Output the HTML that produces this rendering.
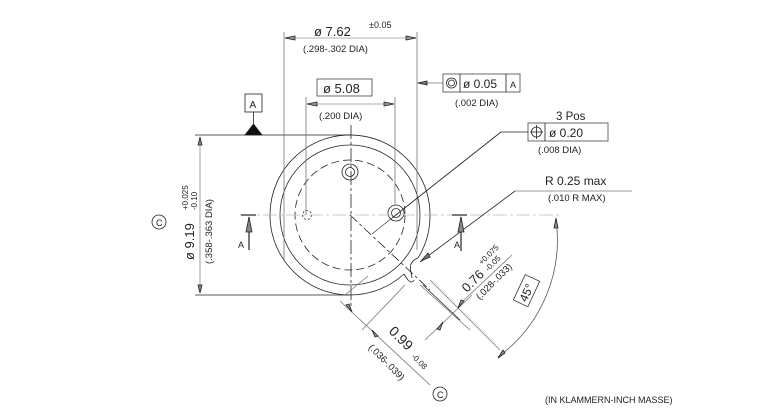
<!DOCTYPE html>
<html><head><style>body{margin:0;background:#fff}svg{display:block}text{font-family:"Liberation Sans",sans-serif;fill:#222}</style></head>
<body>
<svg width="771" height="416" viewBox="0 0 771 416" xmlns="http://www.w3.org/2000/svg" stroke="#222" fill="none" stroke-width="0.8">
<path d="M404,274 A80,80 0 1 1 430,215" />
<path d="M430,215 A80,80 0 0 1 418,258"/>
<circle cx="350" cy="215" r="70"/>
<circle cx="350" cy="215" r="55" stroke-dasharray="8,4"/>
<path d="M418,258 Q408,262 411,272 L412,278 M404,274 L408,280 Q412,284 414,280"/>
<circle cx="350" cy="172" r="8"/><circle cx="350" cy="172" r="4.5"/>
<circle cx="396" cy="213" r="8"/><circle cx="396" cy="213" r="4.5"/>
<circle cx="307" cy="215" r="4.5" stroke-dasharray="2,2"/>
<line x1="351" y1="125" x2="351" y2="310" stroke-dasharray="14,3,3,3"/>
<line x1="240" y1="215" x2="560" y2="215" stroke="#bbb" stroke-dasharray="14,3,3,3"/>
<line x1="350" y1="215" x2="430" y2="290" stroke-dasharray="10,3,3,3"/>
<line x1="195" y1="135" x2="350" y2="135"/>
<line x1="195" y1="295" x2="350" y2="295"/>
<line x1="200" y1="137" x2="200" y2="293" stroke="#888"/>
<polygon points="200,137 198,145 202,145" fill="#888"/><polygon points="200,293 198,285 202,285" fill="#888"/>
<polygon points="245,135 262,135 253.5,124" fill="#111"/>
<line x1="253.5" y1="124" x2="253.5" y2="112"/>
<rect x="245" y="94" width="17" height="18" fill="#fff"/>
<text x="249.5" y="108" font-size="10" stroke="none">A</text>
<line x1="284" y1="32" x2="284" y2="260" stroke="#777"/>
<line x1="417" y1="32" x2="417" y2="250" stroke="#777"/>
<line x1="285" y1="38" x2="416" y2="38" stroke="#999"/>
<polygon points="285,38 295,36 295,40" fill="#999"/><polygon points="416,38 406,36 406,40" fill="#999"/>
<text x="314" y="36" font-size="13" stroke="none">ø 7.62</text>
<text x="369" y="28" font-size="9" stroke="none">±0.05</text>
<text x="303" y="52" font-size="9.5" stroke="none">(.298-.302 DIA)</text>
<line x1="306" y1="97" x2="306" y2="215" stroke="#777"/>
<line x1="395" y1="97" x2="395" y2="205" stroke="#777"/>
<line x1="307" y1="104" x2="394" y2="104" stroke="#999"/>
<polygon points="307,104 317,102 317,106" fill="#999"/><polygon points="394,104 384,102 384,106" fill="#999"/>
<rect x="317" y="79" width="55" height="17" stroke="#444"/>
<text x="323" y="93" font-size="13" stroke="none">ø 5.08</text>
<text x="319" y="119" font-size="9.5" stroke="none">(.200 DIA)</text>
<line x1="417" y1="83" x2="443" y2="83" stroke="#777"/>
<polygon points="418,83 427,81 427,85" fill="#777"/>
<rect x="443" y="74" width="77" height="18" stroke="#444"/>
<line x1="460" y1="74" x2="460" y2="92"/><line x1="506" y1="74" x2="506" y2="92"/>
<circle cx="451.5" cy="83" r="5"/><circle cx="451.5" cy="83" r="3"/>
<text x="463" y="88" font-size="12" stroke="none">ø 0.05</text>
<text x="510" y="88" font-size="9" stroke="none">A</text>
<text x="455" y="106" font-size="9.5" stroke="none">(.002 DIA)</text>
<text x="556" y="120" font-size="11.5" stroke="none">3 Pos</text>
<rect x="528" y="123" width="80" height="18" stroke="#444"/>
<line x1="545" y1="123" x2="545" y2="141"/>
<circle cx="536.5" cy="132" r="5"/><line x1="530" y1="132" x2="543" y2="132"/><line x1="536.5" y1="125" x2="536.5" y2="139"/>
<text x="549" y="137" font-size="12" stroke="none">ø 0.20</text>
<text x="538" y="153" font-size="9.5" stroke="none">(.008 DIA)</text>
<line x1="528" y1="132" x2="501" y2="132"/>
<line x1="501" y1="132" x2="392" y2="218"/>
<line x1="392" y1="218" x2="372" y2="234" stroke-width="0.6"/>
<text x="545" y="185" font-size="12" stroke="none">R 0.25 max</text>
<line x1="515" y1="191" x2="632" y2="191" stroke="#777"/>
<text x="548" y="201" font-size="9.5" stroke="none">(.010 R MAX)</text>
<line x1="515" y1="191" x2="420" y2="262"/>
<polygon points="421,261 428,253 430,257" fill="#777"/>
<line x1="241" y1="215" x2="256" y2="215" stroke-width="1.2"/>
<line x1="249" y1="217" x2="249" y2="250" stroke-width="1.2"/>
<polygon points="249,217 246,232 252,232" fill="#888"/>
<text x="238" y="248" font-size="9" stroke="none">A</text>
<line x1="452" y1="215" x2="467" y2="215" stroke-width="1.2"/>
<line x1="461" y1="217" x2="461" y2="251" stroke-width="1.2"/>
<polygon points="461,217 458,232 464,232" fill="#888"/>
<text x="454" y="248" font-size="9" stroke="none">A</text>
<circle cx="159" cy="222" r="7"/>
<text x="156" y="226" font-size="9" stroke="none">C</text>
<g transform="translate(194,260) rotate(-90)">
<text x="0" y="0" font-size="13" stroke="none">ø 9.19</text>
<text x="50" y="-6" font-size="8" stroke="none">+0.025</text>
<text x="50" y="3" font-size="8" stroke="none">-0.10</text>
<text x="-4" y="18" font-size="9.5" stroke="none">(.358-.363 DIA)</text>
</g>
<line x1="345" y1="295" x2="368" y2="276" stroke="#777"/>
<line x1="362" y1="330" x2="405" y2="285" stroke="#777"/>
<line x1="340" y1="301" x2="430" y2="385" stroke="#777"/>
<polygon points="352,312 346,305 349,304" fill="#999"/>
<polygon points="372,330 378,336 375,337" fill="#999"/>
<line x1="420" y1="285" x2="470" y2="330" stroke="#777"/>
<line x1="430" y1="280" x2="500" y2="350" stroke="#777"/>
<line x1="423" y1="285" x2="460" y2="320"/>
<line x1="425" y1="340" x2="472" y2="295" stroke="#777"/>
<polygon points="443,322 437,329 440,330" fill="#999"/>
<polygon points="458,308 464,301 461,300" fill="#999"/>
<line x1="464" y1="300" x2="512" y2="255" stroke="#777"/>
<text transform="translate(388,332) rotate(45)" font-size="14" stroke="none">0.99</text>
<text transform="translate(411,357) rotate(45)" font-size="8" stroke="none">-0.08</text>
<text transform="translate(368,348) rotate(45)" font-size="9.5" stroke="none">(.036-.039)</text>
<circle cx="440" cy="394" r="7"/>
<text x="437" y="398" font-size="9" stroke="none">C</text>
<g transform="translate(467,293) rotate(-45)">
<text x="0" y="0" font-size="13" stroke="none">0.76</text>
<text x="30" y="-9" font-size="8" stroke="none">+0.075</text>
<text x="30" y="0" font-size="8" stroke="none">-0.05</text>
<text x="4" y="14" font-size="9.5" stroke="none">(.028-.033)</text>
</g>
<path d="M556,220 A145,145 0 0 1 498,357" stroke="#555"/>
<polygon points="556,218 554,228 558,228" fill="#888"/>
<polygon points="498,358 503,350 505,353" fill="#888"/>
<g transform="translate(527,292) rotate(-65)">
<rect x="-13" y="-9" width="28" height="16" stroke="#333"/>
<text x="-10" y="4" font-size="12" stroke="none">45°</text>
</g>
<text x="545" y="403" font-size="9" stroke="none">(IN KLAMMERN-INCH MASSE)</text>
</svg>
</body></html>
